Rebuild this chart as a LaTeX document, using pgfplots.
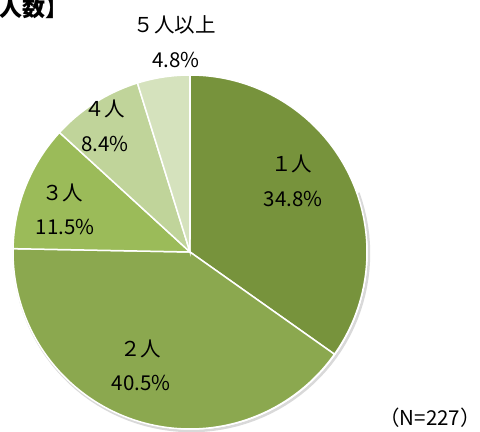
\documentclass[border=0pt]{standalone}
\usepackage{pgfplots}
\pgfplotsset{compat=1.18}
\usepackage{fontspec}
\setmainfont{Noto Sans CJK JP}
\definecolor{cA}{HTML}{77933C}
\definecolor{cB}{HTML}{8BA84F}
\definecolor{cC}{HTML}{9BBB59}
\definecolor{cD}{HTML}{C0D49A}
\definecolor{cE}{HTML}{D5E2BD}
\tikzset{lbl/.style={font=\fontsize{20.5bp}{24bp}\selectfont, inner sep=0pt}}
\begin{document}
\begin{tikzpicture}
\useasboundingbox (0,0) rectangle (480bp,432bp);
\begin{axis}[
  at={(0,0)}, anchor=south west,
  scale only axis, width=480bp, height=432bp,
  xmin=-190, xmax=290, ymin=-180, ymax=252,
  hide axis, clip=false,
]
% soft shadow
\addplot[draw=black!25, line width=2.5bp, opacity=0.6, domain=-200:20, samples=80]
  ({1.5+177.5*cos(x)},{-1.5+177.5*sin(x)});
% slices: 1人 34.8, 2人 40.5, 3人 11.5, 4人 8.4, 5人以上 4.8 (clockwise from top)
\addplot[fill=cA, draw=white, line width=1.5bp, domain=-35.28:90, samples=90]
  ({177*cos(x)},{177*sin(x)}) -- (axis cs:0,0) -- cycle;
\addplot[fill=cB, draw=white, line width=1.5bp, domain=-181.08:-35.28, samples=100]
  ({177*cos(x)},{177*sin(x)}) -- (axis cs:0,0) -- cycle;
\addplot[fill=cC, draw=white, line width=1.5bp, domain=-222.48:-181.08, samples=40]
  ({177*cos(x)},{177*sin(x)}) -- (axis cs:0,0) -- cycle;
\addplot[fill=cD, draw=white, line width=1.5bp, domain=-252.72:-222.48, samples=30]
  ({177*cos(x)},{177*sin(x)}) -- (axis cs:0,0) -- cycle;
\addplot[fill=cE, draw=white, line width=1.5bp, domain=-270:-252.72, samples=20]
  ({177*cos(x)},{177*sin(x)}) -- (axis cs:0,0) -- cycle;
% labels
\node[lbl] at (axis cs:102,88) {１人};
\node[lbl] at (axis cs:103,53) {34.8\%};
\node[lbl] at (axis cs:-49,-97) {２人};
\node[lbl] at (axis cs:-49,-131) {40.5\%};
\node[lbl] at (axis cs:-127,59) {３人};
\node[lbl] at (axis cs:-125,25) {11.5\%};
\node[lbl] at (axis cs:-85,143) {４人};
\node[lbl] at (axis cs:-85,108) {8.4\%};
\node[lbl] at (axis cs:-15,227) {５人以上};
\node[lbl] at (axis cs:-14,192) {4.8\%};
\node[lbl] at (axis cs:240,-166) {（N=227）};
\node[anchor=east, inner sep=0pt, font=\fontsize{23bp}{26bp}\selectfont\bfseries] at (axis cs:-121,244) {【世帯人数】};
\end{axis}
\end{tikzpicture}
\end{document}
